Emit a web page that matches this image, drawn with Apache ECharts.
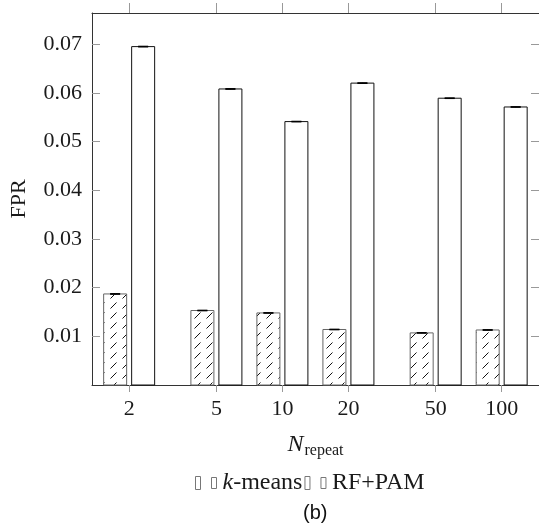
<!DOCTYPE html>
<html>
<head>
<meta charset="utf-8">
<script src="https://cdn.jsdelivr.net/npm/echarts@6/dist/echarts.min.js"></script>
<style>html,body{margin:0;padding:0;background:#fff;}#c{width:539px;height:531px;}</style>
</head>
<body>
<div id="c"></div>
<script>
// ---- data ----
var nRepeat = [2, 5, 10, 20, 50, 100];
var kmeansFPR = [0.0187, 0.0153, 0.0148, 0.0114, 0.0107, 0.0113];
var kmeansErr = [0.00006, 0.00005, 0.00005, 0.00005, 0.00005, 0.00006];
var rfpamFPR = [0.0695, 0.0608, 0.0541, 0.0620, 0.0589, 0.0571];
var rfpamErr = [0.00006, 0.00006, 0.00005, 0.00006, 0.00005, 0.00005];
var yTicks = [0.01, 0.02, 0.03, 0.04, 0.05, 0.06, 0.07];
var seriesNames = ['k-means', 'RF+PAM'];

// hatch pattern
var pc = document.createElement('canvas');
pc.width = 12; pc.height = 10;
var pctx = pc.getContext('2d');
pctx.fillStyle = '#fff'; pctx.fillRect(0, 0, 12, 10);
pctx.strokeStyle = '#111'; pctx.lineWidth = 1;
pctx.beginPath(); pctx.moveTo(2.5, 8.5); pctx.lineTo(8.5, 2.5); pctx.stroke();
var hatch = {image: pc, repeat: 'repeat'};

var serif = 'Liberation Serif';
var textColor = '#1a1a1a';

function makeRender(shift, fill, stroke, errs) {
  return function (params, api) {
    var x = api.value(0), y = api.value(1);
    var e = errs[params.dataIndex];
    var base = api.coord([x, 0]);
    var top = api.coord([x, y]);
    var eHi = api.coord([x, y + e]);
    var eLo = api.coord([x, y - e]);
    var bw = 23;
    var cx = base[0] + shift;
    return {
      type: 'group',
      children: [
        {type: 'rect', shape: {x: cx - bw / 2, y: top[1], width: bw, height: base[1] - top[1]},
         style: {fill: fill, stroke: stroke, lineWidth: 1}},
        {type: 'line', shape: {x1: cx, y1: eLo[1], x2: cx, y2: eHi[1]}, style: {stroke: '#000', lineWidth: 1}},
        {type: 'line', shape: {x1: cx - 5, y1: eHi[1], x2: cx + 5, y2: eHi[1]}, style: {stroke: '#000', lineWidth: 1.2}},
        {type: 'line', shape: {x1: cx - 5, y1: eLo[1], x2: cx + 5, y2: eLo[1]}, style: {stroke: '#000', lineWidth: 1.2}}
      ]
    };
  };
}

var xMin = 1.354, xMax = 148;
var yMax = 0.0764;
var axisLineStyle = {color: '#333', width: 1};
var tickStyle = {color: '#999', width: 1};
var legendIcon = 'path://M0,0h5v13h-5z M16,1h5v11h-5z';

var option = {
  animation: false,
  backgroundColor: '#fff',
  grid: {left: 92, top: 13, width: 449, height: 372},
  xAxis: [
    {type: 'log', logBase: 10, min: xMin, max: xMax, position: 'bottom',
     axisLine: {show: true, onZero: false, lineStyle: axisLineStyle},
     axisTick: {show: true, inside: false, length: 7, lineStyle: tickStyle, customValues: nRepeat},
     axisLabel: {show: true, margin: 13, fontFamily: serif, fontSize: 22, color: textColor,
                 customValues: nRepeat, formatter: function (v) { return String(Math.round(v)); }},
     minorTick: {show: false}, splitLine: {show: false},
     name: '{i|N}{s|repeat}', nameLocation: 'middle', nameGap: 46,
     nameTextStyle: {rich: {
       i: {fontFamily: serif, fontStyle: 'italic', fontSize: 24, color: textColor},
       s: {fontFamily: serif, fontSize: 16, color: textColor, padding: [12, 0, 0, 1]}
     }}},
    {type: 'log', logBase: 10, min: xMin, max: xMax, position: 'top',
     axisLine: {show: true, onZero: false, lineStyle: axisLineStyle},
     axisTick: {show: true, inside: false, length: 10, lineStyle: tickStyle, customValues: nRepeat},
     axisLabel: {show: false}, splitLine: {show: false}}
  ],
  yAxis: [
    {type: 'value', min: 0, max: yMax, position: 'left',
     axisLine: {show: true, onZero: false, lineStyle: axisLineStyle},
     axisTick: {show: true, inside: true, length: 8, lineStyle: tickStyle, customValues: yTicks},
     axisLabel: {show: true, margin: 10, fontFamily: serif, fontSize: 22, color: textColor,
                 customValues: yTicks, formatter: function (v) { return v.toFixed(2); }},
     splitLine: {show: false},
     name: 'FPR', nameLocation: 'middle', nameGap: 62, nameRotate: 90,
     nameTextStyle: {fontFamily: serif, fontSize: 22, color: textColor}},
    {type: 'value', min: 0, max: yMax, position: 'right',
     axisLine: {show: true, onZero: false, lineStyle: axisLineStyle},
     axisTick: {show: true, inside: true, length: 8, lineStyle: tickStyle, customValues: yTicks},
     axisLabel: {show: false}, splitLine: {show: false}}
  ],
  legend: {
    left: 190, top: 466, itemGap: 2, itemWidth: 21, itemHeight: 13,
    data: [
      {name: seriesNames[0], icon: legendIcon,
       itemStyle: {color: '#fff', borderColor: '#777', borderWidth: 1}},
      {name: seriesNames[1], icon: legendIcon,
       itemStyle: {color: '#fff', borderColor: '#777', borderWidth: 1}}
    ],
    formatter: function (name) {
      return name === 'k-means' ? '{i|k}{r|-means}' : '{r|RF+PAM}';
    },
    textStyle: {padding: [0, 0, 0, 1], rich: {
      i: {fontFamily: serif, fontStyle: 'italic', fontSize: 24, color: textColor},
      r: {fontFamily: serif, fontSize: 24, color: textColor}
    }}
  },
  graphic: [
    {type: 'text', left: 303, top: 503,
     style: {text: '(b)', fontFamily: 'Liberation Sans', fontSize: 20, fill: '#111'}}
  ],
  series: [
    {name: seriesNames[0], type: 'custom', xAxisIndex: 0, yAxisIndex: 0,
     itemStyle: {color: '#fff', borderColor: '#666'},
     renderItem: makeRender(-14, hatch, '#666', kmeansErr),
     data: nRepeat.map(function (n, i) { return [n, kmeansFPR[i]]; })},
    {name: seriesNames[1], type: 'custom', xAxisIndex: 0, yAxisIndex: 0,
     itemStyle: {color: '#fff', borderColor: '#000'},
     renderItem: makeRender(14, '#fff', '#111', rfpamErr),
     data: nRepeat.map(function (n, i) { return [n, rfpamFPR[i]]; })}
  ]
};

var chart = echarts.init(document.getElementById('c'), null, {renderer: 'canvas'});
chart.setOption(option);
</script>
</body>
</html>
